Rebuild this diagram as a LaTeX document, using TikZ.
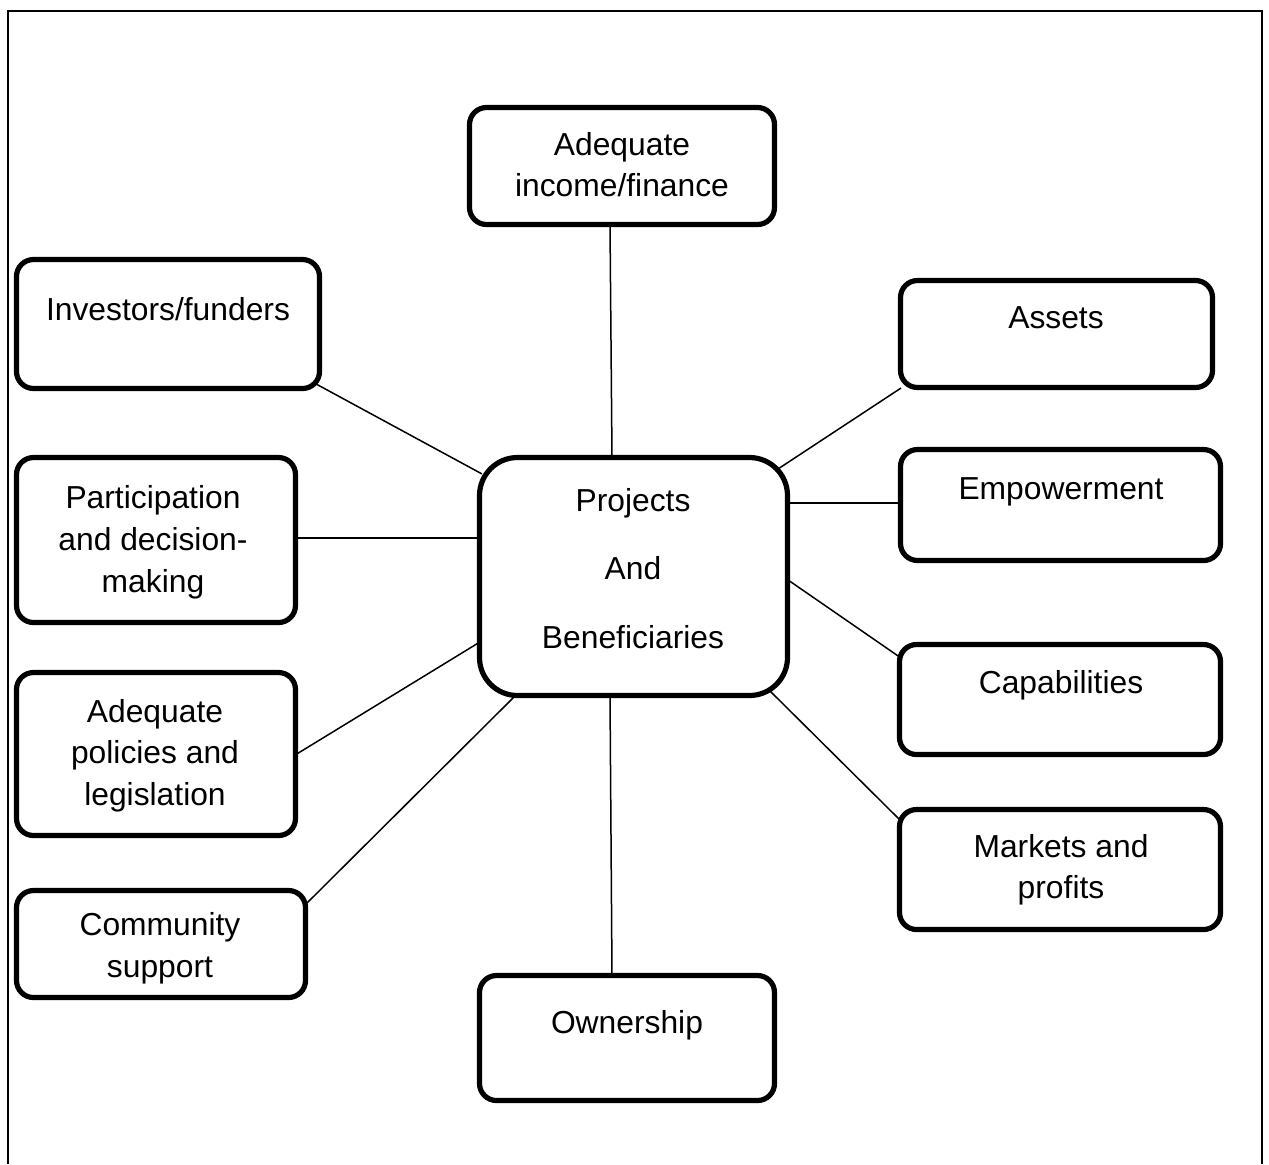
\documentclass[tikz,border=0pt]{standalone}
\usepackage{fontspec}
\setmainfont{Liberation Sans}
\usetikzlibrary{calc,backgrounds}
\tikzset{
  box/.style={draw, line width=2.6pt, rounded corners=8.5pt, fill=white, inner sep=0pt},
  bigbox/.style={box, rounded corners=19pt},
  conn/.style={line width=0.75pt},
  frameline/.style={line width=1pt},
  lbl/.style={anchor=base, inner sep=0pt, font=\fontsize{15.9pt}{20.5pt}\selectfont}
}
\begin{document}
\begin{tikzpicture}[x=0.5pt, y=-0.5pt]
\useasboundingbox (0,0) rectangle (1269,1164);
% frame (open at bottom)
\coordinate (fbl) at (8,1164);
\coordinate (ftl) at (8,11);
\coordinate (ftr) at (1262,11);
\coordinate (fbr) at (1262,1164);
\draw[frameline] (fbl) -- (ftl) -- (ftr) -- (fbr);

% boxes
\node[box, minimum width=152.5pt, minimum height=58.5pt] (inc) at (622,166) {};
\node[box, minimum width=151.5pt, minimum height=64.5pt] (inv) at (168,324) {};
\node[bigbox, minimum width=154pt, minimum height=119pt] (proj) at (633.5,576.5) {};
\node[box, minimum width=156pt, minimum height=53.5pt] (ass) at (1056.5,334) {};
\node[box, minimum width=160pt, minimum height=55.5pt] (emp) at (1060.5,505) {};
\node[box, minimum width=139.5pt, minimum height=82.5pt] (par) at (156,540) {};
\node[box, minimum width=139.5pt, minimum height=81.5pt] (pol) at (156,754) {};
\node[box, minimum width=144.5pt, minimum height=53.5pt] (com) at (161,944) {};
\node[box, minimum width=160.5pt, minimum height=55pt] (cap) at (1060,699.5) {};
\node[box, minimum width=160.5pt, minimum height=60pt] (mkt) at (1060,869.5) {};
\node[box, minimum width=147.5pt, minimum height=62.5pt] (own) at (627,1038) {};

% texts
\node[lbl] (t-inc1) at (622,155) {Adequate};
\node[lbl] (t-inc2) at (622,196) {income/finance};
\node[lbl] (t-inv) at (168,320) {Investors/funders};
\node[lbl] (t-proj1) at (633,511) {Projects};
\node[lbl] (t-proj2) at (633,579) {And};
\node[lbl] (t-proj3) at (633,648) {Beneficiaries};
\node[lbl] (t-ass) at (1056,328) {Assets};
\node[lbl] (t-emp) at (1061,499) {Empowerment};
\node[lbl] (t-par1) at (153,508) {Participation};
\node[lbl] (t-par2) at (153,550) {and decision-};
\node[lbl] (t-par3) at (153,592) {making};
\node[lbl] (t-pol1) at (155,722) {Adequate};
\node[lbl] (t-pol2) at (155,763) {policies and};
\node[lbl] (t-pol3) at (155,805) {legislation};
\node[lbl] (t-com1) at (160,935) {Community};
\node[lbl] (t-com2) at (160,977) {support};
\node[lbl] (t-cap) at (1061,693) {Capabilities};
\node[lbl] (t-mkt1) at (1061,857) {Markets and};
\node[lbl] (t-mkt2) at (1061,898) {profits};
\node[lbl] (t-own) at (627,1033) {Ownership};

% connectors (behind boxes)
\begin{scope}[on background layer]
\draw[conn] ($(inc.south)+(-12,-2)$) -- ($(proj.north)+(-21.5,2)$);
\draw[conn] ($(inv.south east)+(-15,-12)$) -- ($(proj.north west)+(5,19)$);
\draw[conn] ($(ass.south west)+(3,-2)$) -- ($(proj.north east)+(-12,14)$);
\draw[conn] ($(emp.west)+(2,-2)$) -- ($(proj.east |- emp.west)+(-2,-2)$);
\draw[conn] ($(cap.north west)+(4,16)$) -- ($(proj.east)+(-2,3.5)$);
\draw[conn] ($(mkt.north west)+(3,13)$) -- ($(proj.south east)+(-22,-9)$);
\draw[conn] ($(own.north)+(-15,2)$) -- ($(proj.south)+(-23.5,-2)$);
\draw[conn] ($(com.north east)+(-3,17)$) -- ($(proj.south west)+(40,-4)$);
\draw[conn] ($(pol.east)+(-3,1)$) -- ($(proj.west)+(3,65.5)$);
\draw[conn] ($(par.east)+(-2,-2)$) -- ($(proj.west |- par.east)+(2,-2)$);
\end{scope}
\end{tikzpicture}
\end{document}
